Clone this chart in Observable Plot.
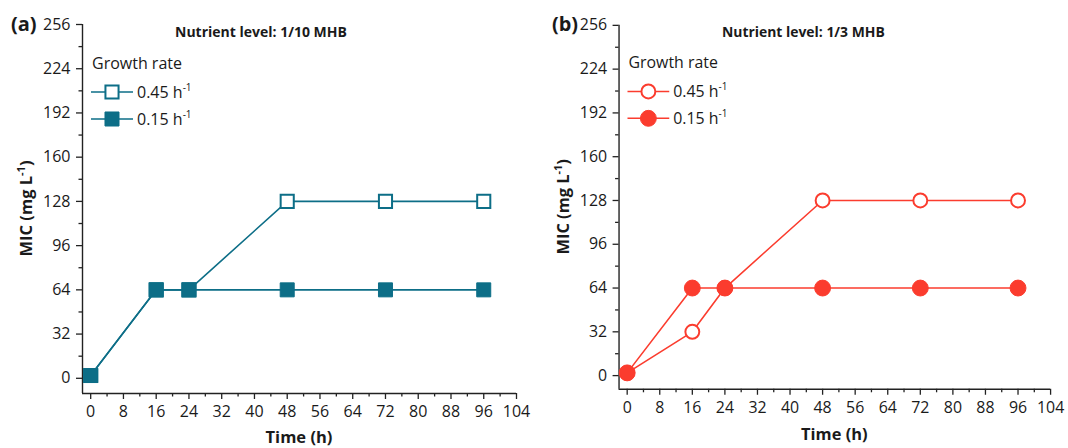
<!DOCTYPE html>
<html>
<head>
<meta charset="utf-8">
<script src="https://cdn.jsdelivr.net/npm/d3@7"></script>
<script src="https://cdn.jsdelivr.net/npm/@observablehq/plot@0.6"></script>
<style>
  body { margin: 0; background: #fff; }
  #wrap { position: relative; width: 1068px; height: 448px; overflow: hidden; }
  .panel { position: absolute; top: 0; }
</style>
</head>
<body>
<div id="wrap"></div>
<script>
// Sampling times (h)
const timeH = [0, 16, 24, 48, 72, 96];

// MIC (mg/L) at 1/10 MHB
const mic110Fast = [2, 64, 64, 128, 128, 128];   // 0.45 h-1
const mic110Slow = [2, 64, 64, 64, 64, 64];      // 0.15 h-1

// MIC (mg/L) at 1/3 MHB
const mic13Fast = [2, 32, 64, 128, 128, 128];    // 0.45 h-1
const mic13Slow = [2, 64, 64, 64, 64, 64];       // 0.15 h-1

// Axis ticks
const xTicks = d3.range(0, 105, 8);
const xMinor = d3.range(4, 104, 8);
const yTicks = d3.range(0, 257, 32);
const yMinor = d3.range(16, 256, 32);

const rateLabels = ["0.45", "0.15"];
const legendTitle = "Growth rate";

const FONT = "'Open Sans', sans-serif";
const INK = "#1a1a1a";

const toRows = (vals) => timeH.map((t, i) => ({ t, mic: vals[i] }));

function panel({ left, tag, tagX, title, titleX, color, symbol, fast, slow, rOpen, rFill, MT, MB, yMin }) {
  const W = 534, H = 448, ML = 82, MR = 18;
  const fastRows = toRows(fast);
  const slowRows = toRows(slow);

  const svg = Plot.plot({
    width: W, height: H,
    marginLeft: ML, marginRight: MR, marginTop: MT, marginBottom: MB,
    x: { domain: [-2, 104] },
    y: { domain: [yMin, 256] },
    style: { fontFamily: FONT, fontSize: "16px", color: INK, background: "white" },
    marks: [
      Plot.ruleY([yMin], { stroke: "#222", strokeWidth: 1.4 }),
      Plot.ruleX([-2], { stroke: "#222", strokeWidth: 1.4 }),
      Plot.axisX({ ticks: xTicks, tickSize: 6, tickPadding: 6, tickFormat: d => d, label: null, stroke: "#222", strokeWidth: 1.3 }),
      Plot.axisX({ ticks: xMinor, tickSize: 3.5, tickPadding: 0, tickFormat: () => "", label: null, stroke: "#222", strokeWidth: 1.3 }),
      Plot.axisY({ ticks: yTicks, tickSize: 6, tickPadding: 6, tickFormat: d => d, label: null, stroke: "#222", strokeWidth: 1.3 }),
      Plot.axisY({ ticks: yMinor, tickSize: 3.5, tickPadding: 0, tickFormat: () => "", label: null, stroke: "#222", strokeWidth: 1.3 }),
      // 0.45 h-1 (open markers), drawn first so the filled series sits on top
      Plot.line(fastRows, { x: "t", y: "mic", stroke: color, strokeWidth: 1.6 }),
      Plot.dot(fastRows, { x: "t", y: "mic", symbol, r: rOpen, fill: "white", stroke: color, strokeWidth: 2 }),
      // 0.15 h-1 (filled markers)
      Plot.line(slowRows, { x: "t", y: "mic", stroke: color, strokeWidth: 1.6 }),
      Plot.dot(slowRows, { x: "t", y: "mic", symbol, r: rFill, fill: color, stroke: color, strokeWidth: 1 })
    ]
  });

  const s = d3.select(svg);
  const g = s.append("g").attr("font-family", FONT).attr("fill", INK).attr("text-anchor", "start");

  // Panel tag and title
  g.append("text").attr("x", tagX).attr("y", 24).attr("dy", "0.35em")
    .attr("font-size", 20).attr("font-weight", 700).text(tag);
  g.append("text").attr("x", titleX).attr("y", 32).attr("dy", "0.35em")
    .attr("font-size", 14).attr("font-weight", 700).text(title);

  // Axis titles
  const yl = g.append("text")
    .attr("transform", `translate(26, ${(MT + H - MB) / 2}) rotate(-90)`)
    .attr("text-anchor", "middle").attr("dy", "0.35em")
    .attr("font-size", 16.5).attr("font-weight", 700);
  yl.append("tspan").text("MIC (mg L");
  yl.append("tspan").attr("font-size", 11).attr("dy", -7).text("-1");
  yl.append("tspan").attr("dy", 7).text(")");

  g.append("text").attr("x", (ML + W - MR) / 2).attr("y", 437).attr("dy", "0.35em")
    .attr("text-anchor", "middle").attr("font-size", 16.5).attr("font-weight", 700).text("Time (h)");

  // Legend
  g.append("text").attr("x", ML + 10).attr("y", 63).attr("dy", "0.35em")
    .attr("font-size", 16).text(legendTitle);
  const sym = d3.symbol().type(symbol === "square" ? d3.symbolSquare : d3.symbolCircle);
  rateLabels.forEach((lab, i) => {
    const y = 92 + i * 27;
    const filled = i === 1;
    const r = filled ? rFill : rOpen;
    g.append("line").attr("x1", ML + 9).attr("x2", ML + 51).attr("y1", y).attr("y2", y)
      .attr("stroke", color).attr("stroke-width", 1.6);
    g.append("path").attr("transform", `translate(${ML + 30},${y})`)
      .attr("d", sym.size(r * r * Math.PI)())
      .attr("fill", filled ? color : "white").attr("stroke", color)
      .attr("stroke-width", filled ? 1 : 2);
    const t = g.append("text").attr("x", ML + 55).attr("y", y).attr("dy", "0.35em").attr("font-size", 16);
    t.append("tspan").text(lab + " h");
    t.append("tspan").attr("font-size", 10).attr("dy", -7).text("-1");
  });

  const div = document.createElement("div");
  div.className = "panel";
  div.style.left = left + "px";
  div.appendChild(svg);
  document.getElementById("wrap").appendChild(div);
}

panel({
  left: 0, tag: "(a)", tagX: 11, title: "Nutrient level: 1/10 MHB", titleX: 175,
  color: "#0d6e87", symbol: "square", fast: mic110Fast, slow: mic110Slow, rOpen: 7.4, rFill: 7.9,
  MT: 24, MB: 55, yMin: -11
});
panel({
  left: 537, tag: "(b)", tagX: 15, title: "Nutrient level: 1/3 MHB", titleX: 186,
  color: "#fb3c2e", symbol: "circle", fast: mic13Fast, slow: mic13Slow, rOpen: 7, rFill: 8,
  MT: 25, MB: 57, yMin: -10
});
</script>
</body>
</html>
